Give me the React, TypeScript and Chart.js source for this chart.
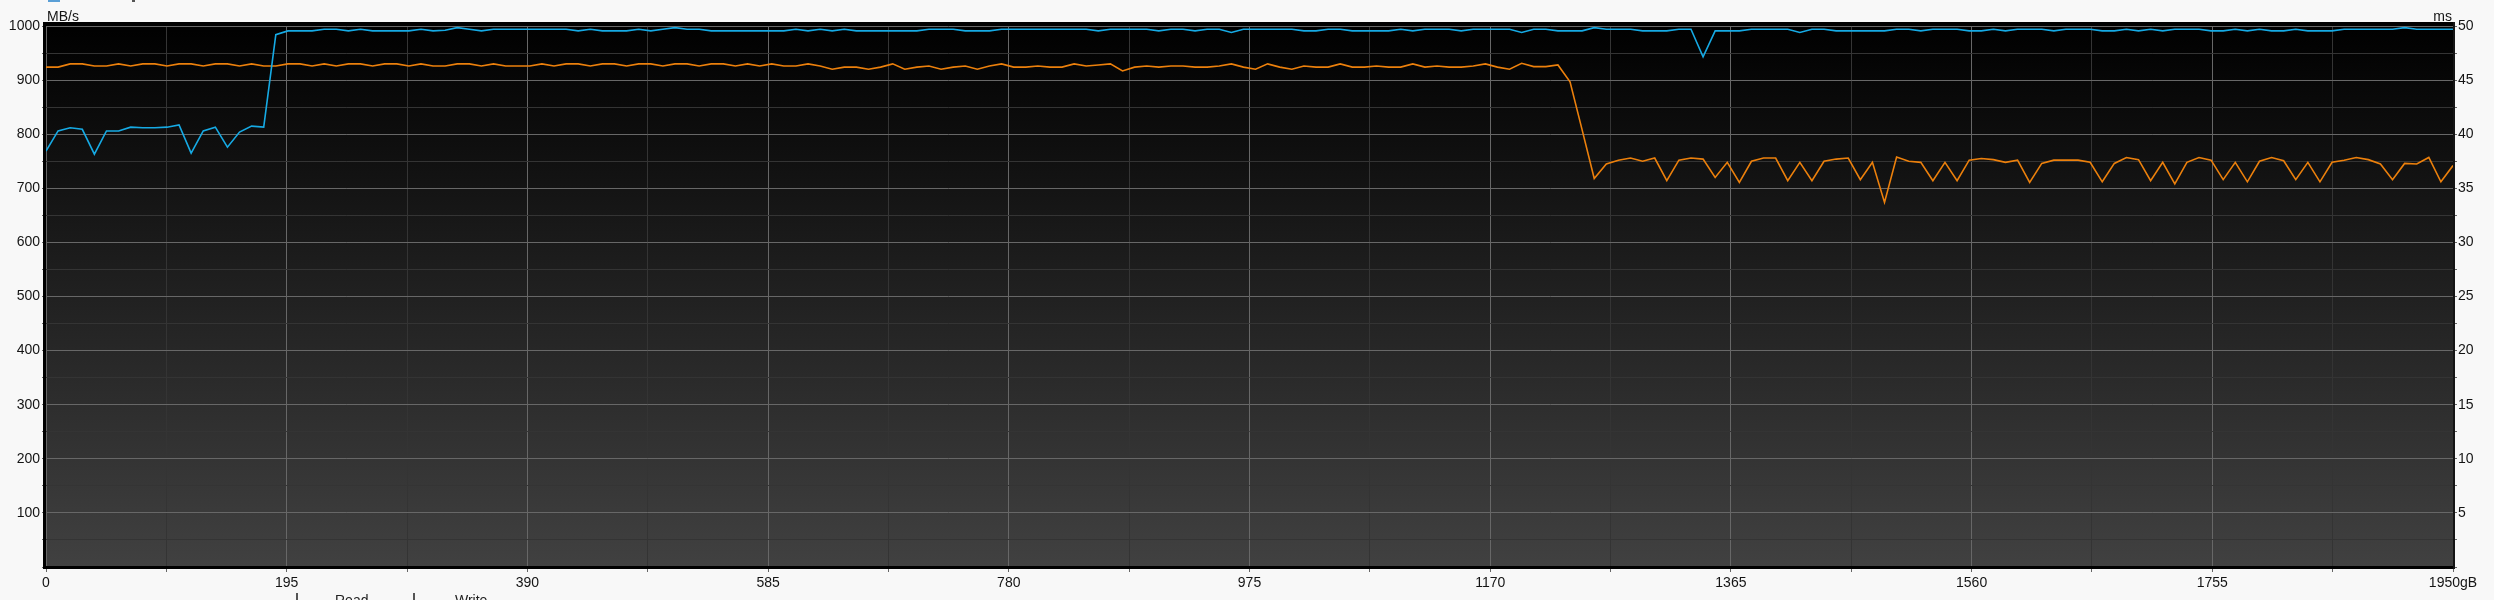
import { useEffect, useRef } from 'react';
import { Chart, registerables } from 'chart.js';

Chart.register(...registerables);

// ---- data ----
const CAPACITY_GB = 1950;
const X_MAJOR_STEP = 195;
const X_MINOR_STEP = 97.5;
const LEFT_MAX = 1000;
const LEFT_MAJOR = 100;
const LEFT_MINOR = 50;
const RIGHT_MAX = 50;
const RIGHT_MAJOR = 5;
const RIGHT_MINOR = 2.5;
const LEFT_UNIT = 'MB/s';
const RIGHT_UNIT = 'ms';
const X_UNIT = 'gB';
const LEGEND_LABELS = ['Read', 'Write'];

// transfer rate, MB/s (left axis)
const transferRate = [
  769, 806, 812, 809, 763, 806, 806, 813, 812, 812, 813, 817, 765, 806, 813, 776, 804, 815, 813, 984,
  991, 991, 991, 994, 994, 991, 994, 991, 991, 991,
  991, 994, 991, 992, 997, 994, 991, 994, 994, 994,
  994, 994, 994, 994, 991, 994, 991, 991, 991, 994,
  991, 994, 997, 994, 994, 991, 991, 991, 991, 991,
  991, 991, 994, 991, 994, 991, 994, 991, 991, 991,
  991, 991, 991, 994, 994, 994, 991, 991, 991, 994,
  994, 994, 994, 994, 994, 994, 994, 991, 994, 994,
  994, 994, 991, 994, 994, 991, 994, 994, 988, 994,
  994, 994, 994, 994, 991, 991, 994, 994, 991, 991,
  991, 991, 994, 991, 994, 994, 994, 991, 994, 994,
  994, 994, 988, 994, 994, 991, 991, 991, 997, 994,
  994, 994, 991, 991, 991, 994, 994, 943, 991, 991,
  991, 994, 994, 994, 994, 988, 994, 994, 991, 991,
  991, 991, 991, 994, 994, 991, 994, 994, 994, 991,
  991, 994, 991, 994, 994, 994, 991, 994, 994, 994,
  991, 991, 994, 991, 994, 991, 994, 994, 994, 991,
  991, 994, 991, 994, 991, 991, 994, 991, 991, 991,
  994, 994, 994, 994, 994, 997, 994, 994, 994, 994,
];

// access time, ms (right axis)
const accessTime = [
  46.2, 46.2, 46.5, 46.5, 46.3, 46.3, 46.5, 46.3, 46.5, 46.5,
  46.3, 46.5, 46.5, 46.3, 46.5, 46.5, 46.3, 46.5, 46.3, 46.3,
  46.5, 46.5, 46.3, 46.5, 46.3, 46.5, 46.5, 46.3, 46.5, 46.5,
  46.3, 46.5, 46.3, 46.3, 46.5, 46.5, 46.3, 46.5, 46.3, 46.3,
  46.3, 46.5, 46.3, 46.5, 46.5, 46.3, 46.5, 46.5, 46.3, 46.5,
  46.5, 46.3, 46.5, 46.5, 46.3, 46.5, 46.5, 46.3, 46.5, 46.3,
  46.5, 46.3, 46.3, 46.5, 46.3, 46.0, 46.2, 46.2, 46.0, 46.2,
  46.5, 46.0, 46.2, 46.3, 46.0, 46.2, 46.3, 46.0, 46.3, 46.5,
  46.2, 46.2, 46.3, 46.2, 46.2, 46.5, 46.3, 46.4, 46.5, 45.85,
  46.2, 46.3, 46.2, 46.3, 46.3, 46.2, 46.2, 46.3, 46.5, 46.2,
  46.0, 46.5, 46.2, 46.0, 46.3, 46.2, 46.2, 46.5, 46.2, 46.2,
  46.3, 46.2, 46.2, 46.5, 46.2, 46.3, 46.2, 46.2, 46.3, 46.5,
  46.2, 46.0, 46.55, 46.25, 46.25, 46.4, 44.85, 40.4, 35.9, 37.25,
  37.6, 37.8, 37.5, 37.8, 35.7, 37.6, 37.8, 37.7, 36.0, 37.4,
  35.55, 37.5, 37.8, 37.8, 35.7, 37.4, 35.7, 37.5, 37.7, 37.8,
  35.8, 37.4, 33.7, 37.9, 37.5, 37.4, 35.7, 37.4, 35.7, 37.6,
  37.75, 37.65, 37.4, 37.6, 35.55, 37.3, 37.6, 37.6, 37.6, 37.4,
  35.6, 37.3, 37.85, 37.65, 35.7, 37.4, 35.4, 37.4, 37.85, 37.6,
  35.8, 37.4, 35.6, 37.5, 37.85, 37.55, 35.8, 37.4, 35.6, 37.4,
  37.6, 37.85, 37.65, 37.25, 35.8, 37.3, 37.25, 37.85, 35.6, 37.1,
];

// sample positions (GB) – evenly spaced samples across the drive
const sampleGB = transferRate.map((_, i) => (i * CAPACITY_GB) / (transferRate.length - 1));

// ---- styles ----
const FONT = '"Liberation Sans", Arial, sans-serif';
const LABEL_COLOR = '#141414';
const MAJOR_GRID = '#676767';
const MINOR_GRID = '#343434';
const TICK_COLOR = '#666666';
const READ_COLOR = '#16aae4';
const WRITE_COLOR = '#ec800c';

const isMultiple = (v: number, step: number) => Math.abs(v / step - Math.round(v / step)) < 1e-6;

const backgroundPlugin = {
  id: 'plotBackground',
  beforeDraw(chart: any) {
    const { ctx, chartArea } = chart;
    const { left, right, top, bottom } = chartArea;
    ctx.save();
    ctx.fillStyle = '#f8f8f8';
    ctx.fillRect(0, 0, chart.width, chart.height);
    const g = ctx.createLinearGradient(0, top - 4, 0, bottom + 2);
    g.addColorStop(0, '#000000');
    g.addColorStop(1, '#414141');
    ctx.fillStyle = g;
    ctx.fillRect(left - 3, top - 4, right - left + 5, bottom - top + 6);
    ctx.restore();
  },
};

const framePlugin = {
  id: 'plotFrame',
  afterDraw(chart: any) {
    const { ctx, chartArea } = chart;
    const { left, right, top, bottom } = chartArea;
    ctx.save();
    ctx.fillStyle = '#000000';
    ctx.fillRect(left - 3, top - 4, right - left + 4, 3); // top
    ctx.fillRect(left - 3, bottom - 1, right - left + 4, 3); // bottom
    ctx.fillRect(left - 3, top - 4, 3, bottom - top + 6); // left
    ctx.fillStyle = '#141414';
    ctx.fillRect(right, top - 4, 2, bottom - top + 6); // right

    // axis units
    ctx.font = `14px ${FONT}`;
    ctx.fillStyle = LABEL_COLOR;
    ctx.textBaseline = 'alphabetic';
    ctx.textAlign = 'left';
    ctx.fillText(LEFT_UNIT, left + 1, 21);
    ctx.textAlign = 'right';
    ctx.fillText(RIGHT_UNIT, right - 1, 21);

    // legend (clipped at the bottom edge)
    ctx.textAlign = 'left';
    ctx.fillStyle = '#222222';
    ctx.fillText(LEGEND_LABELS[0], 335, 605);
    ctx.fillText(LEGEND_LABELS[1], 455, 605);
    ctx.fillStyle = '#555555';
    ctx.fillRect(296, 593, 2, 7);
    ctx.fillRect(413, 593, 2, 7);

    // top cut element
    ctx.fillStyle = '#5a9fd6';
    ctx.fillRect(48, 0, 12, 2);
    ctx.fillStyle = '#555555';
    ctx.fillRect(132, 0, 3, 2);
    ctx.restore();
  },
};

export default function App() {
  const ref = useRef<HTMLCanvasElement>(null);

  useEffect(() => {
    const canvas = ref.current;
    if (!canvas) return;
    const chart = new Chart(canvas, {
      type: 'line',
      data: {
        datasets: [
          {
            label: LEGEND_LABELS[0],
            data: sampleGB.map((x, i) => ({ x, y: transferRate[i] })),
            yAxisID: 'y',
            borderColor: READ_COLOR,
            borderWidth: 1.6,
            pointRadius: 0,
            tension: 0,
            fill: false,
          },
          {
            label: LEGEND_LABELS[1],
            data: sampleGB.map((x, i) => ({ x, y: accessTime[i] })),
            yAxisID: 'y1',
            borderColor: WRITE_COLOR,
            borderWidth: 1.6,
            pointRadius: 0,
            tension: 0,
            fill: false,
          },
        ],
      },
      options: {
        animation: false,
        responsive: false,
        maintainAspectRatio: false,
        layout: { padding: { top: 26, left: 0, right: 0, bottom: 0 } },
        plugins: {
          legend: { display: false },
          tooltip: { enabled: false },
          title: { display: false },
        },
        scales: {
          x: {
            type: 'linear',
            min: 0,
            max: CAPACITY_GB,
            afterFit: (s: any) => {
              s.height = 33;
            },
            border: { display: false },
            grid: {
              color: (c: any) => (c.tick && isMultiple(c.tick.value, X_MAJOR_STEP) ? MAJOR_GRID : MINOR_GRID),
              tickColor: TICK_COLOR,
              tickLength: 5,
              lineWidth: 1,
            },
            ticks: {
              stepSize: X_MINOR_STEP,
              autoSkip: false,
              maxRotation: 0,
              minRotation: 0,
              padding: 3,
              color: LABEL_COLOR,
              font: { family: FONT, size: 14 },
              callback: (v: any) => {
                const n = Number(v);
                if (!isMultiple(n, X_MAJOR_STEP)) return '';
                return n === CAPACITY_GB ? `${n}${X_UNIT}` : String(n);
              },
            },
          },
          y: {
            type: 'linear',
            position: 'left',
            min: 0,
            max: LEFT_MAX,
            afterFit: (s: any) => {
              s.width = 46;
            },
            border: { display: false },
            grid: {
              color: (c: any) => (c.tick && isMultiple(c.tick.value, LEFT_MAJOR) ? MAJOR_GRID : MINOR_GRID),
              tickColor: TICK_COLOR,
              tickLength: 4,
              lineWidth: 1,
            },
            ticks: {
              stepSize: LEFT_MINOR,
              autoSkip: false,
              padding: 2,
              color: LABEL_COLOR,
              font: { family: FONT, size: 14 },
              callback: (v: any) => {
                const n = Number(v);
                return n !== 0 && isMultiple(n, LEFT_MAJOR) ? String(n) : '';
              },
            },
          },
          y1: {
            type: 'linear',
            position: 'right',
            min: 0,
            max: RIGHT_MAX,
            afterFit: (s: any) => {
              s.width = 41;
            },
            border: { display: false },
            grid: {
              drawOnChartArea: false,
              tickColor: TICK_COLOR,
              tickLength: 4,
            },
            ticks: {
              stepSize: RIGHT_MINOR,
              autoSkip: false,
              padding: 1,
              color: LABEL_COLOR,
              font: { family: FONT, size: 14 },
              callback: (v: any) => {
                const n = Number(v);
                return n !== 0 && isMultiple(n, RIGHT_MAJOR) ? String(n) : '';
              },
            },
          },
        },
      },
      plugins: [backgroundPlugin, framePlugin],
    } as any);
    return () => chart.destroy();
  }, []);

  return (
    <div style={{ position: 'absolute', left: 0, top: 0, width: 2494, height: 600, background: '#f8f8f8' }}>
      <canvas ref={ref} width={2494} height={600} style={{ display: 'block', width: 2494, height: 600 }} />
    </div>
  );
}
